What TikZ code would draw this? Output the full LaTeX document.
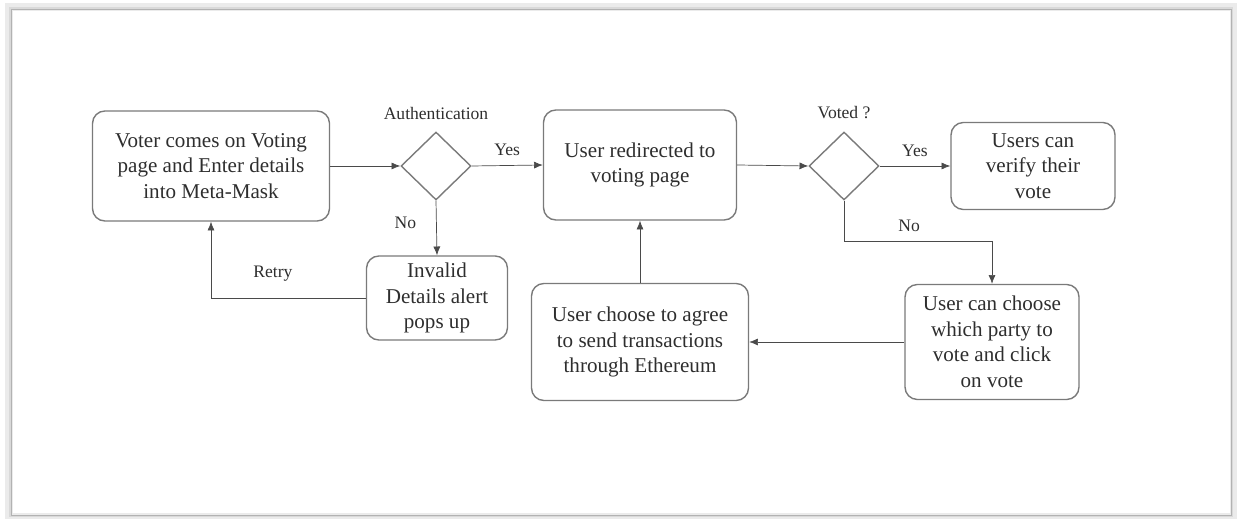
\documentclass[tikz,border=0pt]{standalone}
\usepackage{fontspec}
\setmainfont{Liberation Serif}
\usetikzlibrary{shapes.geometric,arrows.meta}

\definecolor{boxline}{HTML}{7A7A7A}
\definecolor{txt}{HTML}{2E2E2E}
\definecolor{conn}{HTML}{4A4A4A}

\begin{document}
\begin{tikzpicture}[x=0.02cm, y=-0.02cm,
    box/.style={draw=boxline, thick, rounded corners=7pt, align=center, text=txt,
        font=\fontsize{12}{14.5}\selectfont, inner sep=2pt},
    decision/.style={draw=boxline, thick, diamond, aspect=1, inner sep=0pt,
        minimum width=1.4cm, minimum height=1.36cm},
    lbl/.style={text=txt, font=\fontsize{10}{12}\selectfont},
    line/.style={draw=conn, thin},
    arrow/.style={line, -{Latex[length=5pt,width=4pt]}}]

    % page frame with a soft shadow
    \useasboundingbox (0,0) rectangle (1237,519);
    \draw[line width=4pt, black!8] (9,7) rectangle (1233,517);
    \draw[line width=1.5pt, black!15] (10,8) rectangle (1232,516);
    \draw[black!30] (11,9) rectangle (1231,515);

    % upper row
    \node[box, minimum width=4.74cm, minimum height=2.2cm] (enter) at (211,166)
        {Voter comes on Voting\\page and Enter details\\into Meta-Mask};
    \node[decision] (auth) at (436,166) {};
    \node[lbl] (authtxt) at (436,113) {Authentication};
    \node[box, minimum width=3.86cm, minimum height=2.2cm] (redirect) at (640,165)
        {User redirected to\\voting page};
    \node[decision] (voted) at (844,166) {};
    \node[lbl] (votedtxt) at (844,113) {Voted ?};
    \node[box, minimum width=3.28cm, minimum height=1.74cm] (verify) at (1033,166)
        {Users can\\verify their\\vote};

    % lower row
    \node[box, minimum width=2.82cm, minimum height=1.68cm] (invalid) at (437,298)
        {Invalid\\Details alert\\pops up};
    \node[box, minimum width=4.34cm, minimum height=2.34cm] (agree) at (640,342)
        {User choose to agree\\to send transactions\\through Ethereum};
    \node[box, minimum width=3.48cm, minimum height=2.3cm] (choose) at (992,342)
        {User can choose\\which party to\\vote and click\\on vote};
    \coordinate (nobend) at (992,241);

    % connectors
    \draw[arrow] (enter.east) -- (auth.west);
    \draw[arrow] (auth.east) -- node[lbl, above=2pt] {Yes} (redirect.west);
    \draw[arrow] (auth.south) -- node[lbl, left=8pt, pos=0.4] {No} (invalid.north);
    \draw[arrow] (invalid.west) -- node[lbl, above=6pt, pos=0.6] {Retry} (invalid.west -| enter.south) -- (enter.south);
    \draw[arrow] (redirect.east) -- (voted.west);
    \draw[arrow] (voted.east) -- node[lbl, above=2pt] {Yes} (verify.west);
    \draw[line] (voted.south) |- node[lbl, above=2pt, pos=0.72] {No} (nobend);
    \draw[arrow] (nobend) -- (choose.north);
    \draw[arrow] (choose.west) -- (agree.east);
    \draw[arrow] (agree.north) -- (redirect.south);

\end{tikzpicture}
\end{document}
